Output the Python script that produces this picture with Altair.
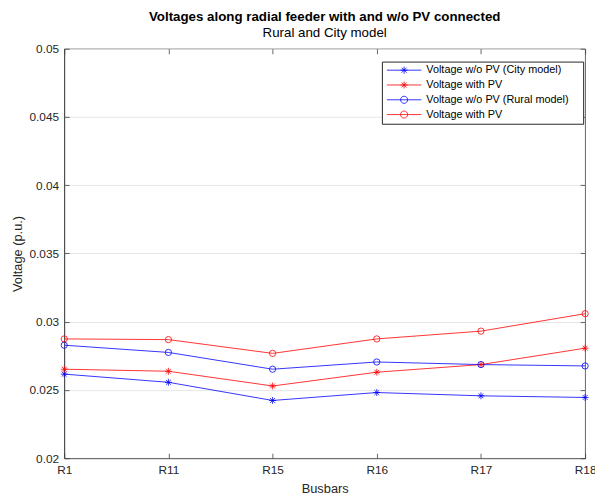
import altair as alt
import pandas as pd

# ---- data ----
buses = ["R1", "R11", "R15", "R16", "R17", "R18"]
city_no_pv = [0.02616, 0.02556, 0.02423, 0.02481, 0.02457, 0.02445]
city_pv = [0.02652, 0.02637, 0.02529, 0.02630, 0.02686, 0.02806]
rural_no_pv = [0.02828, 0.02775, 0.02652, 0.02705, 0.02686, 0.02676]
rural_pv = [0.02874, 0.02869, 0.02768, 0.02874, 0.02931, 0.03059]

NB = "\u00a0"
labels = [
    "Voltage w/o PV (City model)",
    "Voltage with PV",
    "Voltage w/o PV (Rural model)",
    "Voltage with PV" + NB,
]
models = ["city", "city", "rural", "rural"]
colors = ["#0000ff", "#ff0000", "#0000ff", "#ff0000"]
y_ticks = [0.02, 0.025, 0.03, 0.035, 0.04, 0.045, 0.05]

rows = []
for lab, mdl, vals in zip(labels, models, [city_no_pv, city_pv, rural_no_pv, rural_pv]):
    for b, v in zip(buses, vals):
        rows.append({"bus": b, "series": lab, "model": mdl, "v": v})
df = pd.DataFrame(rows)

FONT = "Liberation Sans, Arial, Helvetica, sans-serif"
ASTER = "M0,-1L0,1M-1,0L1,0M-0.7,-0.7L0.7,0.7M-0.7,0.7L0.7,-0.7"
r = 0.2
LEG_ASTER = "M-0.97,0L0.97,0M0,-{r}L0,{r}M-{r},0L{r},0M-{d},-{d}L{d},{d}M-{d},{d}L{d},-{d}".format(r=r, d=round(r * 0.7, 3))
LEG_CIRCLE = "M-0.97,0L0.97,0M{r},0A{r},{r},0,1,1,-{r},0A{r},{r},0,1,1,{r},0".format(r=r)
leg_shapes = [LEG_ASTER, LEG_ASTER, LEG_CIRCLE, LEG_CIRCLE]

AX = "#404040"
x_scale = alt.Scale(type="point", padding=0)
y_scale = alt.Scale(domain=[0.02, 0.05], nice=False, zero=False)
x = alt.X(
    "bus:N", sort=buses, scale=x_scale,
    axis=alt.Axis(title="Busbars", labelAngle=0, tickSize={"expr": "-5"},
                  labelPadding=11.5, titleY=31, titleBaseline="middle",
                  titleFontWeight="normal"),
)
y = alt.Y(
    "v:Q", scale=y_scale,
    axis=alt.Axis(title="Voltage (p.u.)", values=y_ticks, format="~g",
                  tickSize={"expr": "-5"}, labelPadding=10.7,
                  titleX=-47, titleBaseline="middle", titleFontWeight="normal"),
)
color_scale = alt.Scale(domain=labels, range=colors)

base = alt.Chart(df).encode(x=x, y=y)
lines = base.mark_line(strokeWidth=0.8).encode(
    color=alt.Color("series:N", scale=color_scale, legend=None)
)
pts_city = base.transform_filter(alt.datum.model == "city").mark_point(
    shape=ASTER, size=49, filled=False, strokeWidth=0.8, opacity=1
).encode(color=alt.Color("series:N", scale=color_scale, legend=None))
pts_rural = base.transform_filter(alt.datum.model == "rural").mark_point(
    shape="circle", size=40, filled=False, strokeWidth=0.8, opacity=1
).encode(color=alt.Color("series:N", scale=color_scale, legend=None))

leg_props = dict(
    orient="none", legendX=322, legendY=13, direction="vertical",
    # an invisible, tiny title on the right gives the box MATLAB's extra right margin
    title="iiii", titleOrient="right", titleFontSize=2, titlePadding=10,
    titleColor="rgba(0,0,0,0)",
    padding=1.5, strokeColor="#262626", fillColor="white", cornerRadius=0,
    clipHeight=14.4, rowPadding=0, symbolOffset=2.5, labelOffset=4,
    symbolSize=1296, symbolStrokeWidth=0.8, symbolOpacity=1,
    labelFont=FONT, labelFontSize=11, labelColor="black", labelLimit=300,
)
leg = alt.Chart(df).transform_filter("false").mark_point(filled=False, strokeWidth=0.8).encode(
    color=alt.Color("series:N", scale=color_scale, legend=alt.Legend(**leg_props)),
    shape=alt.Shape("series:N", scale=alt.Scale(domain=labels, range=leg_shapes),
                    legend=alt.Legend(**leg_props)),
)

inner = alt.layer(lines, pts_city, pts_rural, leg).resolve_scale(
    color="independent", shape="independent"
)

# top / right box ticks (MATLAB "box on")
frame = alt.Chart(df).mark_point(opacity=0).encode(
    x=alt.X("bus:N", sort=buses, scale=x_scale,
            axis=alt.Axis(orient="top", title=None, labels=False, grid=False,
                          domain=False, tickSize={"expr": "-5"})),
    y=alt.Y("v:Q", scale=y_scale,
            axis=alt.Axis(orient="right", title=None, labels=False, grid=False,
                          domain=False, values=y_ticks, tickSize={"expr": "-5"})),
)

chart = alt.layer(inner, frame).resolve_scale(
    x="independent", y="independent"
).properties(
    width=528, height=415,
    background="white",
    autosize=alt.AutoSizeParams(type="none"),
    padding={"left": 57, "top": 38, "right": 10, "bottom": 35},
    title=alt.TitleParams(
        text="Voltages along radial feeder with and w/o PV connected",
        subtitle="Rural and City model",
        font=FONT, fontSize=13.5, fontWeight="bold", color="black",
        subtitleFont=FONT, subtitleFontSize=13.5, subtitleColor="black",
        subtitleFontWeight="normal",
        anchor="middle", frame="group", offset=3, subtitlePadding=3.5,
    ),
).configure_view(stroke=AX, strokeWidth=0.8).configure_axis(
    labelFont=FONT, labelFontSize=12, labelColor="#262626",
    titleFont=FONT, titleFontSize=13, titleFontWeight="normal", titleColor="#262626",
    gridColor="#e6e6e6", gridWidth=1, domainColor=AX, domainWidth=0.8,
    tickColor=AX, tickWidth=0.8,
)

chart.save("out.html", embed_options={"renderer": "svg", "actions": False})
